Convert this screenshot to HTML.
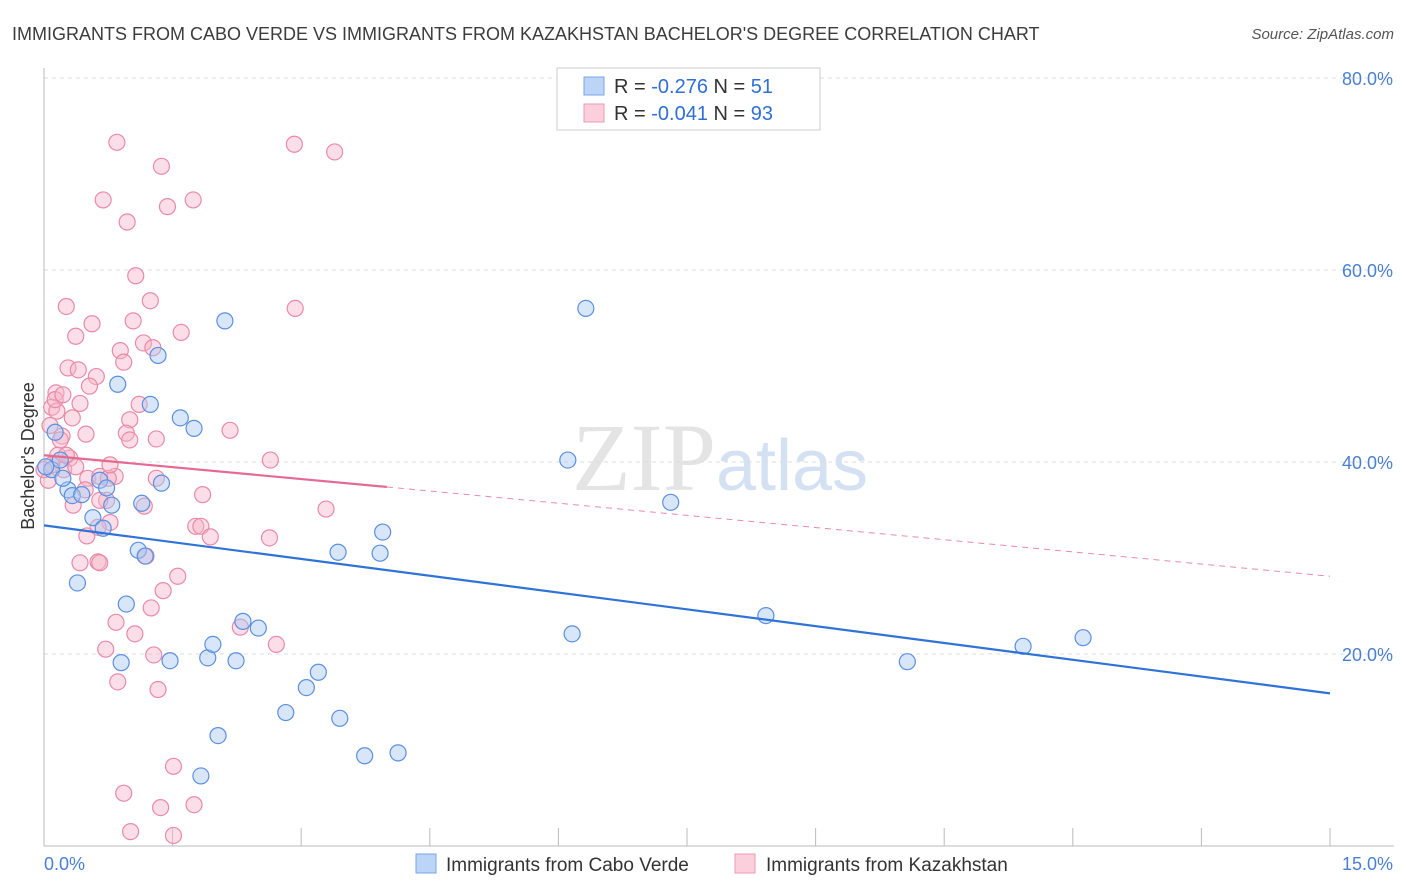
<!DOCTYPE html>
<html><head><meta charset="utf-8"><style>
body{margin:0;background:#fff;font-family:"Liberation Sans",sans-serif;}
svg{display:block}
</style></head><body>
<svg id="chart" width="1406" height="892" xmlns="http://www.w3.org/2000/svg">
<text x="12" y="40" font-size="18" fill="#3c3c3c">IMMIGRANTS FROM CABO VERDE VS IMMIGRANTS FROM KAZAKHSTAN BACHELOR'S DEGREE CORRELATION CHART</text>
<text x="1394" y="39" font-size="15" fill="#555" text-anchor="end" font-style="italic">Source: ZipAtlas.com</text>
<text x="720" y="490" font-size="96" fill="#e4e4e4" text-anchor="middle" font-family="Liberation Serif,serif">ZIP<tspan fill="#d4e1f2" font-family="Liberation Sans,sans-serif" font-size="72">atlas</tspan></text>
<text transform="translate(34,456) rotate(-90)" font-size="18" fill="#333" text-anchor="middle">Bachelor's Degree</text>
<g id="grid"></g><g id="axes"></g><g id="marks"></g>
<g>
<rect x="557" y="68" width="263" height="62" fill="#fff" stroke="#ccc"/>
<rect x="584" y="77" width="20" height="18" fill="#bcd4f6" stroke="#7aa6e6"/>
<rect x="584" y="104" width="20" height="18" fill="#fbcfdc" stroke="#ef9ab4"/>
<text x="614" y="93" font-size="20" fill="#333">R = <tspan fill="#2f6fd6">-0.276</tspan>   N = <tspan fill="#2f6fd6">51</tspan></text>
<text x="614" y="120" font-size="20" fill="#333">R = <tspan fill="#2f6fd6">-0.041</tspan>   N = <tspan fill="#2f6fd6">93</tspan></text>
</g>
<g>
<rect x="416" y="854" width="20" height="19" fill="#bcd4f6" stroke="#7aa6e6"/>
<text x="446" y="871" font-size="19" fill="#333">Immigrants from Cabo Verde</text>
<rect x="735" y="854" width="20" height="19" fill="#fbcfdc" stroke="#ef9ab4"/>
<text x="766" y="871" font-size="19" fill="#333">Immigrants from Kazakhstan</text>
</g>
</svg>
<script>
const yTicks=[20,40,60,80];
const yTickLabels=["20.0%","40.0%","60.0%","80.0%"];
const xTickLabels=["0.0%","15.0%"];
const blueX=[0.09,0.19,0.28,0.33,0.39,0.44,0.57,0.65,0.69,0.73,0.79,0.86,0.90,0.96,1.10,1.14,1.18,1.24,1.33,1.37,1.47,1.59,1.75,1.91,1.97,2.03,1.83,2.11,2.24,2.32,2.50,2.82,3.06,3.20,3.43,3.45,3.74,3.92,3.95,4.13,6.11,6.16,6.32,7.31,8.42,10.07,11.42,12.12,0.02,0.13,0.22];
const blueY=[39.2,40.2,37.1,36.5,27.4,36.6,34.2,38.1,33.1,37.3,35.5,48.1,19.1,25.2,30.8,35.7,30.2,46.0,51.1,37.8,19.3,44.6,43.5,19.6,21.0,11.5,7.3,54.7,19.3,23.4,22.7,13.9,16.5,18.1,30.6,13.3,9.4,30.5,32.7,9.7,40.2,22.1,56.0,35.8,24.0,19.2,20.8,21.7,39.5,43.1,38.3];
const pinkX=[0.85,1.37,2.92,3.39,0.69,0.97,1.44,1.74,1.07,0.26,1.24,0.56,1.04,1.60,2.93,0.37,0.89,1.16,1.27,0.93,0.28,0.40,0.61,0.14,0.53,0.42,0.09,0.15,1.11,1.00,0.33,0.21,0.49,0.96,1.31,2.17,0.16,0.30,0.23,0.37,0.51,0.65,0.83,1.31,1.85,2.64,0.73,1.17,0.77,0.50,1.77,1.83,1.94,2.63,3.29,0.42,0.63,0.65,1.19,1.56,1.39,1.25,0.84,1.06,2.29,2.71,0.72,1.28,0.86,1.33,1.51,0.93,1.36,1.75,1.01,1.51,0.05,0.09,0.19,0.13,0.22,0.07,0.48,0.75,0.63,0.26,0.00,0.34,0.65,0.77,1.00];
const pinkY=[73.3,70.8,73.1,72.3,67.3,65.0,66.6,67.3,59.4,56.2,56.8,54.4,54.7,53.5,56.0,53.1,51.6,52.4,51.9,50.4,49.8,49.6,48.9,47.2,47.9,46.1,45.7,45.3,46.0,44.4,44.6,42.7,42.9,43.0,42.4,43.3,40.7,40.4,39.2,39.5,38.3,38.5,38.5,38.3,36.6,40.2,36.0,35.4,33.7,32.3,33.3,33.3,32.2,32.1,35.1,29.5,29.6,29.5,30.2,28.1,26.6,24.8,23.3,22.1,22.8,21.0,20.5,19.9,17.1,16.3,8.3,5.5,4.0,4.3,1.5,1.1,38.1,39.7,42.3,46.5,47.0,43.8,37.1,38.3,33.2,40.7,39.2,35.5,36.0,39.7,42.3];
const blueTrend=[33.4,15.9];
const pinkTrend=[40.7,37.4,28.1];
const X0=44,X1=1330,Y0=846,PXY=9.6;
const xs=v=>X0+(v/15)*(X1-X0);
const ys=v=>Y0-v*PXY;
const NS="http://www.w3.org/2000/svg";
function mk(tag,attrs,parent){const e=document.createElementNS(NS,tag);for(const k in attrs)e.setAttribute(k,attrs[k]);parent.appendChild(e);return e;}
const grid=document.getElementById('grid'),axes=document.getElementById('axes'),marks=document.getElementById('marks');
yTicks.forEach((t,i)=>{
 const l=mk('line',{x1:44,x2:1394,y1:ys(t),y2:ys(t),stroke:'#ddd','stroke-dasharray':'4,4'},grid);
 
 
 const tx=mk('text',{x:1393,y:ys(t)+7,'font-size':18,fill:'#4a7fd6','text-anchor':'end'},axes);
 tx.textContent=yTickLabels[i];
 
 
});
const ax=mk('line',{x1:44,x2:1394,y1:846,y2:846,stroke:'#bbb'},axes);


const ay=mk('line',{x1:44,x2:44,y1:68,y2:846,stroke:'#bbb'},axes);


for(let i=1;i<=10;i++){const t=mk('line',{x1:xs(i*1.5),x2:xs(i*1.5),y1:828,y2:846,stroke:'#bbb'},axes);
 
 }
[[0,44,'start'],[15,1393,'end']].forEach((d,i)=>{const t=mk('text',{x:d[1],y:870,'font-size':18,fill:'#4a7fd6','text-anchor':d[2]},axes);t.textContent=xTickLabels[i];
 
 });
function pts(X,Y,fill,stroke,name){X.forEach((x,i)=>{const c=mk('circle',{cx:xs(x),cy:ys(Y[i]),r:8,fill:fill,stroke:stroke,'stroke-width':1.2,'fill-opacity':0.45},marks);
 
 });}
pts(pinkX,pinkY,'#f7b6c9','#e98aa8','kazakhstan-point');
pts(blueX,blueY,'#a9c7f2','#5b8fe0','cabo-verde-point');
const bl=mk('line',{x1:xs(0),y1:ys(blueTrend[0]),x2:xs(15),y2:ys(blueTrend[1]),stroke:'#2f72d8','stroke-width':2.2},marks);


const pl=mk('line',{x1:xs(0),y1:ys(pinkTrend[0]),x2:xs(4),y2:ys(pinkTrend[1]),stroke:'#e56a92','stroke-width':2.2},marks);


const pd=mk('line',{x1:xs(4),y1:ys(pinkTrend[1]),x2:xs(15),y2:ys(pinkTrend[2]),stroke:'#e98aa8','stroke-width':1,'stroke-dasharray':'6,5'},marks);


</script>
</body></html>
